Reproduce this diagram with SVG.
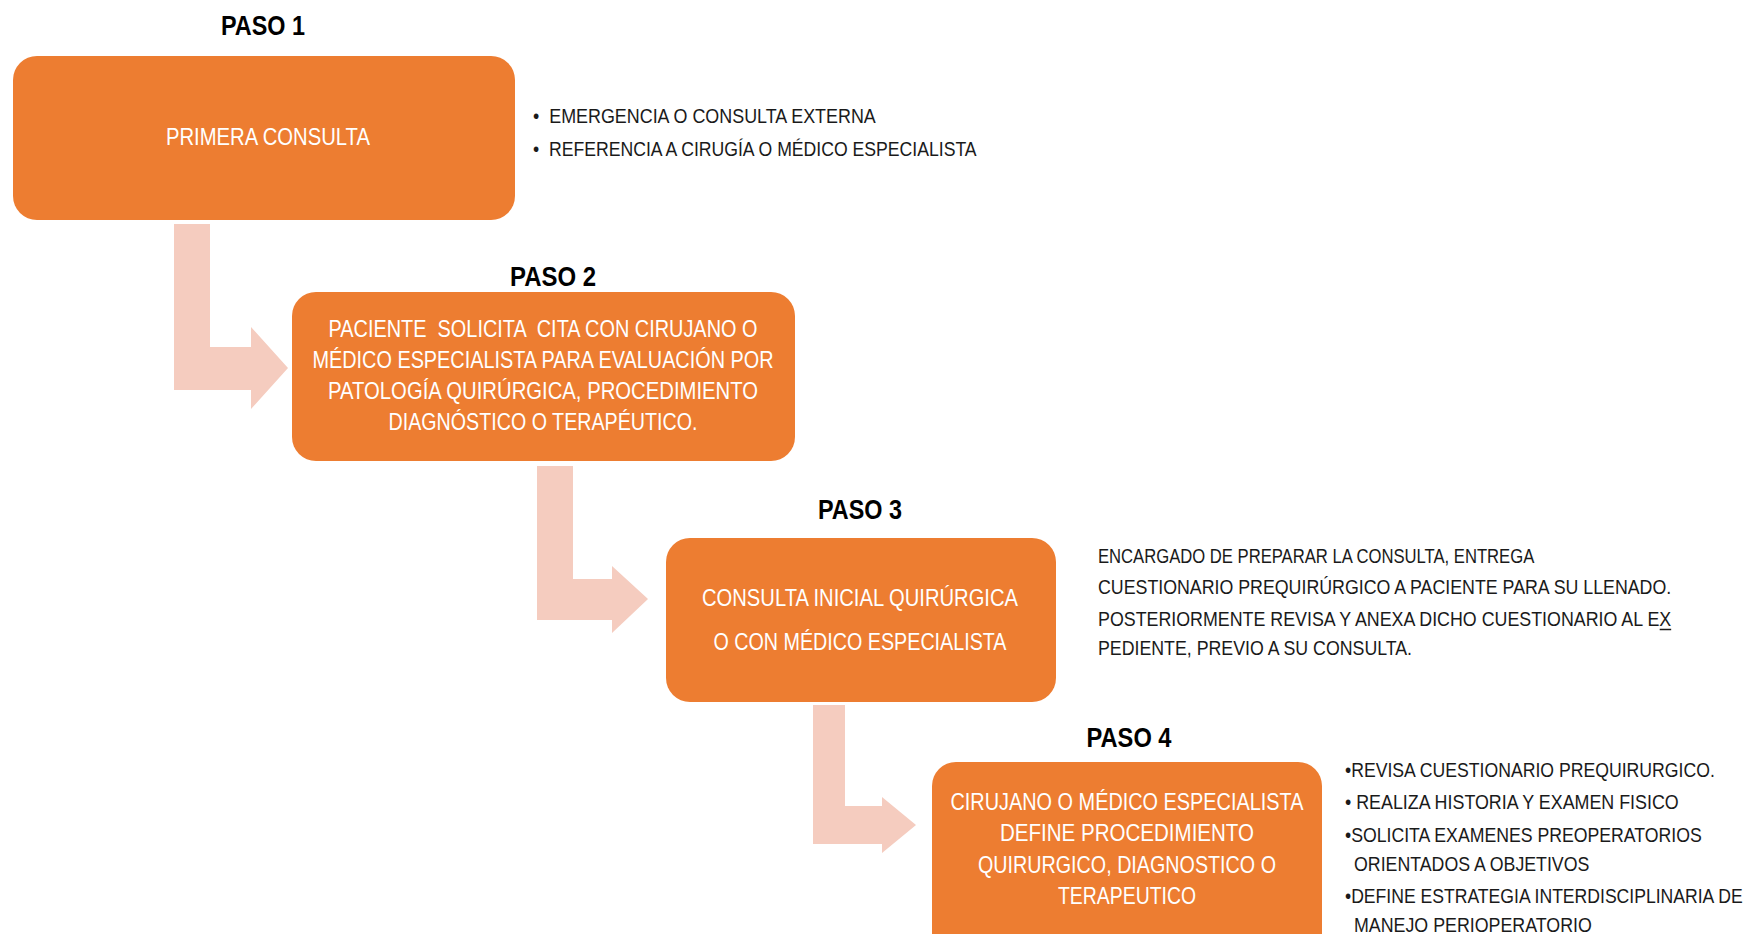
<svg xmlns="http://www.w3.org/2000/svg" width="1750" height="934" viewBox="0 0 1750 934">
<style>
text{font-family:"Liberation Sans",Arial,sans-serif;}
.box{fill:#ED7D31;}
.arrow{fill:#F5CCBF;}
.step{font-size:27px;font-weight:bold;fill:#000;text-anchor:middle;}
.in{font-size:24px;fill:#fff;text-anchor:middle;}
.note{font-size:21px;fill:#1a1a1a;}
</style>
<rect width="1750" height="934" fill="#fff"/>
<g id="connectors">
<path class="arrow" d="M174 224 H210 V347 H251 V327 L288 368 L251 409 V390 H174 Z"/>
<path class="arrow" d="M537 466 H573 V579 H612 V566 L648 599 L612 633 V620 H537 Z"/>
<path class="arrow" d="M813 705 H845 V806 H882 V797 L916 825 L882 853 V844 H813 Z"/>
</g>
<g id="node-paso1">
<text class="step" x="263" y="35" textLength="84" lengthAdjust="spacingAndGlyphs">PASO 1</text>
<rect class="box" x="13" y="56" width="502" height="164" rx="24"/>
<text class="in" x="268" y="145" textLength="204" lengthAdjust="spacingAndGlyphs">PRIMERA CONSULTA</text>
<g transform="translate(533 0) scale(0.82 1)">
<text class="note" x="0" y="123" textLength="418" lengthAdjust="spacingAndGlyphs" xml:space="preserve">•  EMERGENCIA O CONSULTA EXTERNA</text>
<text class="note" x="0" y="156" textLength="541" lengthAdjust="spacingAndGlyphs" xml:space="preserve">•  REFERENCIA A CIRUGÍA O MÉDICO ESPECIALISTA</text>
</g>
</g>
<g id="node-paso2">
<text class="step" x="553" y="286" textLength="86" lengthAdjust="spacingAndGlyphs">PASO 2</text>
<rect class="box" x="292" y="292" width="503" height="169" rx="24"/>
<text class="in" x="543" y="337" textLength="429" lengthAdjust="spacingAndGlyphs" xml:space="preserve">PACIENTE  SOLICITA  CITA CON CIRUJANO O</text>
<text class="in" x="543" y="368" textLength="461" lengthAdjust="spacingAndGlyphs">MÉDICO ESPECIALISTA PARA EVALUACIÓN POR</text>
<text class="in" x="543" y="399" textLength="430" lengthAdjust="spacingAndGlyphs">PATOLOGÍA QUIRÚRGICA, PROCEDIMIENTO</text>
<text class="in" x="543" y="430" textLength="309" lengthAdjust="spacingAndGlyphs">DIAGNÓSTICO O TERAPÉUTICO.</text>
</g>
<g id="node-paso3">
<text class="step" x="860" y="519" textLength="84" lengthAdjust="spacingAndGlyphs">PASO 3</text>
<rect class="box" x="666" y="538" width="390" height="164" rx="24"/>
<text class="in" x="860" y="606" textLength="316" lengthAdjust="spacingAndGlyphs">CONSULTA INICIAL QUIRÚRGICA</text>
<text class="in" x="860" y="650" textLength="293" lengthAdjust="spacingAndGlyphs">O CON MÉDICO ESPECIALISTA</text>
<g transform="translate(1098 0) scale(0.82 1)">
<text class="note" x="0" y="563" textLength="532" lengthAdjust="spacingAndGlyphs">ENCARGADO DE PREPARAR LA CONSULTA, ENTREGA</text>
<text class="note" x="0" y="594" textLength="699" lengthAdjust="spacingAndGlyphs">CUESTIONARIO PREQUIRÚRGICO A PACIENTE PARA SU LLENADO.</text>
<text class="note" x="0" y="626" textLength="699" lengthAdjust="spacingAndGlyphs">POSTERIORMENTE REVISA Y ANEXA DICHO CUESTIONARIO AL EX</text>
<line x1="685" y1="629.5" x2="699" y2="629.5" stroke="#1a1a1a" stroke-width="1.5"/>
<text class="note" x="0" y="655" textLength="383" lengthAdjust="spacingAndGlyphs">PEDIENTE, PREVIO A SU CONSULTA.</text>
</g>
</g>
<g id="node-paso4">
<text class="step" x="1129" y="747" textLength="85" lengthAdjust="spacingAndGlyphs">PASO 4</text>
<rect class="box" x="932" y="762" width="390" height="220" rx="24"/>
<text class="in" x="1127" y="810" textLength="353" lengthAdjust="spacingAndGlyphs">CIRUJANO O MÉDICO ESPECIALISTA</text>
<text class="in" x="1127" y="841" textLength="254" lengthAdjust="spacingAndGlyphs">DEFINE PROCEDIMIENTO</text>
<text class="in" x="1127" y="873" textLength="298" lengthAdjust="spacingAndGlyphs">QUIRURGICO, DIAGNOSTICO O</text>
<text class="in" x="1127" y="904" textLength="138" lengthAdjust="spacingAndGlyphs">TERAPEUTICO</text>
<g transform="translate(1345 0) scale(0.82 1)">
<text class="note" x="0" y="777" textLength="451" lengthAdjust="spacingAndGlyphs">•REVISA CUESTIONARIO PREQUIRURGICO.</text>
<text class="note" x="0" y="809" textLength="407" lengthAdjust="spacingAndGlyphs">• REALIZA HISTORIA Y EXAMEN FISICO</text>
<text class="note" x="0" y="842" textLength="435" lengthAdjust="spacingAndGlyphs">•SOLICITA EXAMENES PREOPERATORIOS</text>
<text class="note" x="11" y="871" textLength="287" lengthAdjust="spacingAndGlyphs">ORIENTADOS A OBJETIVOS</text>
<text class="note" x="0" y="903" textLength="485" lengthAdjust="spacingAndGlyphs">•DEFINE ESTRATEGIA INTERDISCIPLINARIA DE</text>
<text class="note" x="11" y="932" textLength="290" lengthAdjust="spacingAndGlyphs">MANEJO PERIOPERATORIO</text>
</g>
</g>
</svg>
